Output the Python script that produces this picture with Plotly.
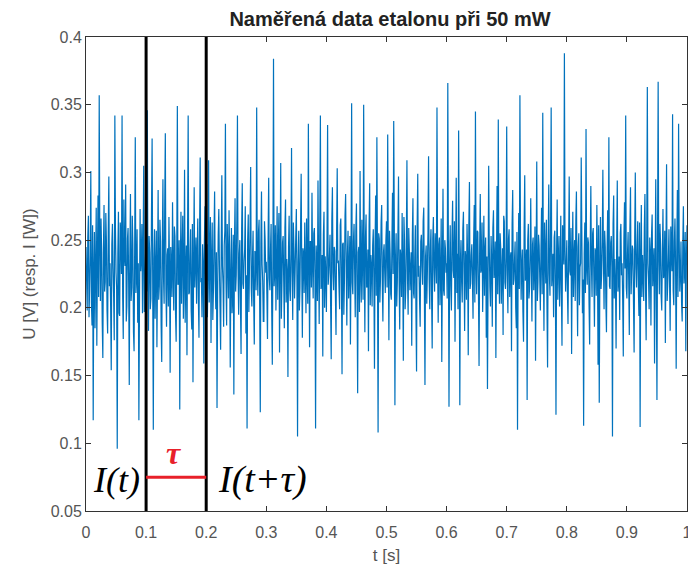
import plotly.graph_objects as go

# Sampled signal (V), one sample every 1 ms from t = 0 s
dt = 0.001
u = [
 0.245,0.221,0.198,0.252,0.268,0.193,0.214,0.239,0.301,0.204,0.187,0.261,0.117,0.227,0.256,0.185,0.229,0.274,0.172,0.236,
 0.283,0.208,0.357,0.249,0.205,0.266,0.241,0.189,0.163,0.243,0.276,0.212,0.219,0.270,0.248,0.198,0.181,0.255,0.297,0.216,
 0.233,0.201,0.154,0.247,0.262,0.229,0.208,0.176,0.342,0.258,0.226,0.214,0.096,0.240,0.271,0.196,0.194,0.263,0.252,0.225,
 0.342,0.209,0.177,0.280,0.238,0.231,0.291,0.190,0.201,0.251,0.259,0.219,0.143,0.237,0.284,0.205,0.215,0.268,0.247,0.182,
 0.168,0.244,0.326,0.211,0.222,0.258,0.189,0.233,0.117,0.203,0.273,0.227,0.236,0.262,0.196,0.241,0.305,0.197,0.211,0.235,
 0.264,0.212,0.346,0.230,0.183,0.253,0.241,0.199,0.207,0.271,0.325,0.218,0.110,0.236,0.258,0.192,0.229,0.257,0.171,0.224,
 0.287,0.206,0.216,0.265,0.249,0.187,0.160,0.248,0.295,0.222,0.203,0.276,0.329,0.213,0.186,0.239,0.244,0.201,0.267,0.229,
 0.152,0.245,0.232,0.208,0.278,0.226,0.198,0.260,0.253,0.195,0.175,0.238,0.349,0.217,0.219,0.250,0.125,0.234,0.271,0.203,
 0.239,0.268,0.192,0.221,0.302,0.189,0.226,0.246,0.165,0.255,0.342,0.210,0.211,0.237,0.258,0.198,0.184,0.262,0.145,0.228,
 0.289,0.215,0.234,0.252,0.203,0.240,0.266,0.206,0.178,0.259,0.311,0.219,0.222,0.193,0.247,0.232,0.159,0.249,0.275,0.211,
 0.228,0.247,0.193,0.226,0.309,0.204,0.241,0.267,0.174,0.235,0.263,0.191,0.212,0.253,0.286,0.220,0.199,0.241,0.126,0.209,
 0.254,0.273,0.231,0.200,0.169,0.244,0.298,0.231,0.218,0.186,0.246,0.257,0.336,0.218,0.187,0.262,0.237,0.207,0.272,0.238,
 0.156,0.223,0.259,0.196,0.208,0.254,0.136,0.245,0.281,0.212,0.224,0.266,0.342,0.229,0.195,0.240,0.250,0.203,0.166,0.258,
 0.292,0.218,0.214,0.234,0.243,0.275,0.181,0.224,0.111,0.250,0.269,0.197,0.230,0.261,0.304,0.214,0.201,0.236,0.257,0.205,
 0.173,0.242,0.239,0.213,0.348,0.228,0.209,0.256,0.265,0.201,0.123,0.247,0.286,0.232,0.220,0.190,0.190,0.264,0.251,0.226,
 0.234,0.209,0.177,0.251,0.296,0.222,0.213,0.243,0.262,0.199,0.158,0.238,0.384,0.216,0.226,0.261,0.198,0.230,0.275,0.206,
 0.245,0.270,0.167,0.235,0.307,0.192,0.217,0.248,0.253,0.219,0.185,0.259,0.280,0.204,0.236,0.227,0.149,0.245,0.268,0.213,
 0.205,0.240,0.318,0.226,0.191,0.263,0.244,0.207,0.228,0.252,0.273,0.218,0.105,0.234,0.257,0.198,0.215,0.257,0.299,0.229,
 0.178,0.244,0.240,0.211,0.263,0.228,0.196,0.266,0.224,0.203,0.336,0.237,0.171,0.249,0.249,0.215,0.285,0.231,0.207,0.255,
 0.259,0.221,0.111,0.246,0.232,0.205,0.294,0.232,0.188,0.260,0.342,0.214,0.218,0.239,0.164,0.254,0.271,0.200,0.238,0.225,
 0.197,0.250,0.335,0.217,0.226,0.238,0.254,0.203,0.162,0.264,0.289,0.226,0.213,0.245,0.242,0.209,0.180,0.256,0.303,0.233,
 0.235,0.214,0.199,0.261,0.266,0.222,0.151,0.247,0.248,0.195,0.220,0.268,0.284,0.230,0.187,0.240,0.257,0.207,0.229,0.253,
 0.173,0.236,0.351,0.219,0.210,0.249,0.262,0.228,0.193,0.258,0.277,0.212,0.137,0.241,0.245,0.197,0.301,0.224,0.204,0.265,
 0.233,0.206,0.350,0.237,0.182,0.252,0.269,0.215,0.216,0.243,0.168,0.260,0.292,0.202,0.239,0.231,0.201,0.246,0.258,0.220,
 0.155,0.248,0.283,0.209,0.326,0.233,0.108,0.255,0.251,0.204,0.222,0.263,0.276,0.218,0.190,0.241,0.247,0.227,0.211,0.250,
 0.264,0.215,0.328,0.239,0.176,0.257,0.240,0.210,0.206,0.248,0.285,0.225,0.338,0.262,0.128,0.236,0.255,0.201,0.219,0.254,
 0.297,0.220,0.184,0.243,0.237,0.208,0.270,0.231,0.161,0.267,0.250,0.199,0.213,0.246,0.309,0.222,0.195,0.259,0.243,0.213,
 0.228,0.241,0.172,0.253,0.281,0.211,0.207,0.237,0.261,0.196,0.153,0.260,0.299,0.223,0.231,0.205,0.186,0.249,0.254,0.230,
 0.217,0.264,0.274,0.214,0.143,0.238,0.246,0.203,0.226,0.256,0.312,0.221,0.199,0.244,0.258,0.209,0.170,0.251,0.267,0.228,
 0.212,0.255,0.239,0.218,0.348,0.236,0.189,0.247,0.252,0.202,0.224,0.266,0.160,0.229,0.288,0.213,0.209,0.250,0.244,0.226,
 0.233,0.207,0.366,0.245,0.127,0.232,0.261,0.216,0.198,0.253,0.279,0.228,0.222,0.264,0.175,0.240,0.296,0.211,0.240,0.199,
 0.331,0.248,0.128,0.235,0.250,0.219,0.204,0.258,0.271,0.225,0.183,0.242,0.237,0.206,0.262,0.236,0.165,0.261,0.293,0.214,
 0.218,0.239,0.247,0.221,0.192,0.250,0.276,0.204,0.345,0.233,0.210,0.257,0.256,0.212,0.157,0.244,0.284,0.226,0.229,0.263,
 0.197,0.230,0.268,0.209,0.241,0.252,0.178,0.238,0.140,0.218,0.305,0.246,0.215,0.201,0.253,0.234,0.186,0.259,0.272,0.222,
 0.231,0.249,0.163,0.236,0.290,0.210,0.339,0.227,0.203,0.255,0.245,0.203,0.226,0.244,0.180,0.268,0.264,0.219,0.214,0.237,
 0.334,0.224,0.196,0.251,0.258,0.208,0.237,0.241,0.168,0.262,0.287,0.217,0.221,0.235,0.249,0.200,0.185,0.256,0.110,0.229,
 0.270,0.214,0.357,0.246,0.206,0.233,0.243,0.197,0.175,0.259,0.298,0.220,0.229,0.243,0.132,0.250,0.262,0.207,0.214,0.238,
 0.281,0.229,0.190,0.247,0.252,0.213,0.232,0.260,0.161,0.236,0.308,0.205,0.219,0.254,0.246,0.222,0.198,0.242,0.274,0.210,
 0.344,0.231,0.183,0.263,0.239,0.218,0.265,0.201,0.156,0.248,0.291,0.225,0.209,0.257,0.348,0.216,0.227,0.240,0.193,0.252,
 0.257,0.218,0.121,0.239,0.280,0.206,0.235,0.253,0.201,0.226,0.268,0.211,0.172,0.261,0.244,0.232,0.388,0.245,0.212,0.228,
 0.250,0.213,0.188,0.242,0.297,0.227,0.224,0.259,0.166,0.236,0.271,0.208,0.238,0.250,0.205,0.264,0.286,0.219,0.179,0.245,
 0.255,0.202,0.230,0.233,0.311,0.256,0.196,0.221,0.113,0.240,0.263,0.211,0.332,0.229,0.217,0.252,0.248,0.203,0.173,0.246,
 0.290,0.232,0.208,0.255,0.259,0.220,0.186,0.244,0.241,0.209,0.276,0.237,0.158,0.261,0.130,0.226,0.267,0.214,0.225,0.249,
 0.302,0.235,0.199,0.257,0.245,0.204,0.182,0.241,0.272,0.223,0.326,0.216,0.214,0.248,0.253,0.230,0.105,0.262,0.283,0.207,
 0.236,0.219,0.170,0.247,0.294,0.212,0.220,0.238,0.191,0.255,0.262,0.224,0.233,0.206,0.164,0.251,0.278,0.229,0.342,0.215,
 0.207,0.240,0.256,0.221,0.180,0.258,0.289,0.210,0.228,0.246,0.243,0.203,0.167,0.252,0.300,0.230,0.215,0.243,0.264,0.217,
 0.194,0.263,0.112,0.236,0.276,0.208,0.239,0.225,0.205,0.259,0.284,0.214,0.176,0.248,0.363,0.233,0.221,0.199,0.252,0.241,
 0.187,0.254,0.269,0.216,0.231,0.244,0.159,0.228,0.295,0.211,0.132,0.251,0.367,0.234,0.210,0.262,0.247,0.209,0.198,0.239,
 0.273,0.222,0.226,0.257,0.174,0.245,0.306,0.205,0.218,0.236,0.258,0.219,0.183,0.260,0.241,0.227,0.343,0.213,0.202,0.249,
 0.266,0.230,0.155,0.242,0.287,0.208,0.336,0.251,0.212,0.224,0.249,0.203,0.190,0.247,0.275,0.218,0.229,0.256,0.168,0.235,
 0.261,
]

title_text = "Naměřená data etalonu při 50 mW"
x_label = "t [s]"
y_label = "U [V] (resp. I [W])"
x_ticks = [0, 0.1, 0.2, 0.3, 0.4, 0.5, 0.6, 0.7, 0.8, 0.9, 1]
y_ticks = [0.05, 0.1, 0.15, 0.2, 0.25, 0.3, 0.35, 0.4]
marker_t = [0.1, 0.2]
tau_level = 0.075

fig = go.Figure()
fig.add_trace(go.Scatter(
    x0=0, dx=dt, y=u, mode="lines",
    line=dict(color="#0072BD", width=1.2, simplify=False),
    hoverinfo="skip", showlegend=False,
))

for t in marker_t:
    fig.add_shape(type="line", xref="x", yref="paper", x0=t, x1=t, y0=0, y1=1,
                  line=dict(color="black", width=3))
fig.add_shape(type="line", xref="x", yref="y", x0=marker_t[0], x1=marker_t[1],
              y0=tau_level, y1=tau_level, line=dict(color="#e8202a", width=3))

serif = "Liberation Serif, Times New Roman, serif"
fig.add_annotation(x=0.093, y=0.073, xref="x", yref="y", text="<i>I(t)</i>",
                   showarrow=False, xanchor="right", yanchor="middle",
                   font=dict(family=serif, size=36, color="black"))
fig.add_annotation(x=0.217, y=0.073, xref="x", yref="y", text="<i>I(t+τ)</i>",
                   showarrow=False, xanchor="left", yanchor="middle",
                   font=dict(family=serif, size=38, color="black"))
fig.add_annotation(x=0.147, y=0.093, xref="x", yref="y", text="<b><i>τ</i></b>",
                   showarrow=False, xanchor="center", yanchor="middle",
                   font=dict(family=serif, size=32, color="#e8202a"))

sans = "Liberation Sans, Arial, sans-serif"
tick_font = dict(family=sans, size=16, color="#555555")
label_font = dict(family=sans, size=17, color="#555555")
fig.update_layout(
    width=688, height=574,
    margin=dict(l=86, r=1, t=37, b=63),
    paper_bgcolor="white", plot_bgcolor="white",
    title=dict(text="<b>" + title_text + "</b>", x=390/688, xanchor="center",
               y=1 - 19/574, yanchor="middle", yref="container",
               font=dict(family=sans, size=20, color="#222222")),
    font=tick_font,
)
fig.update_xaxes(
    range=[0, 1], tickvals=x_ticks, ticktext=[f"{v:g}" for v in x_ticks],
    ticks="inside", ticklen=5, tickcolor="#333333", showline=True, linecolor="#333333",
    linewidth=1, mirror="ticks", showgrid=False, zeroline=False,
    ticklabelstandoff=7, ticklabeloverflow="allow",
    title=dict(text=x_label, standoff=8, font=label_font), automargin=False,
    tickfont=tick_font,
)
fig.update_yaxes(
    range=[0.05, 0.4], tickvals=y_ticks, ticktext=[f"{v:g}" for v in y_ticks],
    ticks="inside", ticklen=5, tickcolor="#333333", showline=True, linecolor="#333333",
    linewidth=1, mirror="ticks", showgrid=False, zeroline=False,
    title=dict(text=y_label, standoff=10, font=label_font), automargin=False,
    tickfont=tick_font,
)

fig.write_html("out.html", config={"displayModeBar": False},
               post_script="document.body.style.margin='0';document.body.style.overflow='hidden';")
